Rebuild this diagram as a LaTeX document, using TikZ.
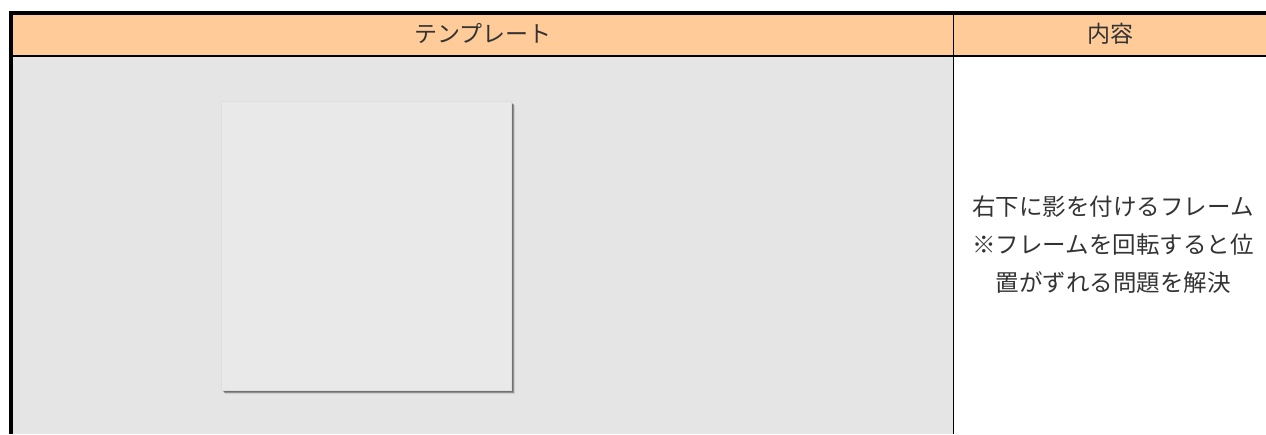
\documentclass[tikz,border=0pt]{standalone}
\usepackage{fontspec}
\newfontfamily\jpfont{Noto Sans CJK JP}
\usetikzlibrary{positioning}

\definecolor{headfill}{HTML}{FECB99}
\definecolor{cellgray}{HTML}{E5E5E5}
\definecolor{framefill}{HTML}{E9E9E9}
\definecolor{frameline}{HTML}{DEDEDE}
\definecolor{textgray}{HTML}{333333}

\tikzset{
  headtext/.style={text=textgray,font=\jpfont\fontsize{23}{28}\selectfont,inner sep=0pt},
  celltext/.style={text=textgray,font=\jpfont\fontsize{23.5}{38}\selectfont,align=center,inner sep=0pt},
  photoframe/.style={draw=frameline,line width=0.6pt,fill=framefill,minimum width=290pt,minimum height=289pt,inner sep=0pt}
}

\begin{document}
\begin{tikzpicture}[x=1pt,y=-1pt]
\useasboundingbox (0,0) rectangle (1266,434);

% cell backgrounds
\fill[headfill] (11,13) rectangle (1266,55.8);
\fill[cellgray] (11,55.8) rectangle (953.5,434);

% shadow of the frame
\foreach \d/\o in {3.5/0.10,3/0.14,2.5/0.18,2/0.22}
  \fill[black,opacity=\o] (221+\d,101+\d) rectangle (511+\d,390+\d);

\node [photoframe] at (366,245.5) (frame) {};

% header
\node [headtext] at (483,33.5) (tmpl) {テンプレート};
\node [headtext] at (1110,33.5) (naiyo) {内容};

% content
\node [celltext] at (1113,245) (desc) {右下に影を付けるフレーム\\※フレームを回転すると位\\置がずれる問題を解決};

% rules
\draw [line width=3.7pt] (10.9,434) -- (10.9,12.9) -- (1266,12.9);
\draw [line width=1.8pt] (12.7,55.8) -- (1266,55.8);
\draw [line width=1.8pt] (953.5,14.7) -- (953.5,434);

\end{tikzpicture}
\end{document}
